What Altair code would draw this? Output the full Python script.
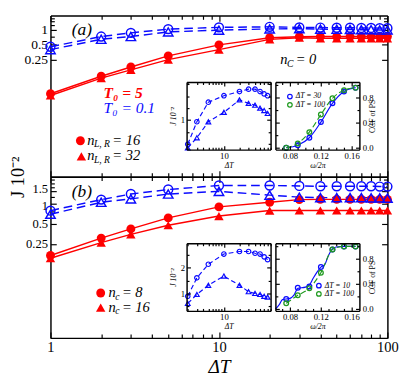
import altair as alt
import pandas as pd

# ---------------- data ----------------
dT = [1, 2, 3, 5, 10, 20, 30, 40, 50, 60, 70, 80, 90, 100]

# panel (a): J*10^2 ; red = T0=5, blue = T0=0.1 ; circles n_LR=16, triangles n_LR=32
a_T5_n16 = [0.050, 0.114, 0.176, 0.297, 0.50, 0.70, 0.735, 0.74, 0.74, 0.74, 0.74, 0.74, 0.74, 0.74]
a_T5_n32 = [0.046, 0.104, 0.154, 0.249, 0.40, 0.648, 0.70, 0.68, 0.68, 0.68, 0.68, 0.68, 0.68, 0.68]
a_T01_n16 = [0.457, 0.74, 0.88, 1.05, 1.14, 1.17, 1.14, 1.13, 1.12, 1.12, 1.11, 1.11, 1.10, 1.10]
a_T01_n32 = [0.40, 0.65, 0.74, 0.92, 1.0, 1.06, 1.07, 1.05, 1.04, 1.03, 1.02, 1.02, 1.01, 1.01]

# panel (b): circles n_c=8, triangles n_c=16
b_T5_nc8 = [0.168, 0.305, 0.418, 0.609, 0.888, 1.04, 1.14, 1.15, 1.15, 1.15, 1.15, 1.15, 1.15, 1.15]
b_T5_nc16 = [0.153, 0.261, 0.347, 0.474, 0.649, 0.783, 0.785, 0.785, 0.785, 0.785, 0.785, 0.785, 0.785, 0.785]
b_T01_nc8 = [0.78, 1.14, 1.38, 1.61, 1.85, 1.85, 1.82, 1.80, 1.80, 1.80, 1.80, 1.80, 1.78, 1.78]
b_T01_nc16 = [0.69, 1.04, 1.17, 1.38, 1.51, 1.33, 1.24, 1.22, 1.22, 1.22, 1.22, 1.21, 1.21, 1.20]

# insets J vs dT
ins_dT = [2, 3, 5, 10, 20, 30, 40, 50, 60, 70]
a_ins_circ = [0.59, 0.97, 1.30, 1.41, 1.48, 1.52, 1.52, 1.48, 1.44, 1.41]
a_ins_tri = [0.53, 0.70, 0.97, 1.13, 1.34, 1.28, 1.25, 1.20, 1.16, 1.11]
b_ins_circ = [0.89, 1.61, 2.14, 2.54, 2.64, 2.64, 2.57, 2.54, 2.43, 2.32]
b_ins_tri = [0.61, 0.96, 1.32, 1.68, 1.32, 1.07, 1.00, 0.96, 0.89, 0.86]

# insets CCF of PS vs omega/2pi
w2pi = [0.075, 0.09, 0.105, 0.12, 0.135, 0.15, 0.165]
a_ccf_30 = [0.0, 0.04, 0.16, 0.41, 0.71, 0.90, 0.96]
a_ccf_100 = [0.0, 0.07, 0.25, 0.53, 0.79, 0.92, 0.96]
b_ccf_10 = [0.16, 0.34, 0.36, 0.67, 0.95, 1.0, 1.0]
b_ccf_100 = [0.09, 0.22, 0.33, 0.58, 0.95, 1.0, 1.0]
b_curve_w = [0.061, 0.066, 0.07, 0.08, 0.085, 0.09, 0.1, 0.105, 0.11, 0.115, 0.12, 0.125, 0.13, 0.135, 0.14, 0.15, 0.165]
b_curve_ccf = [0.0, 0.07, 0.15, 0.17, 0.22, 0.33, 0.35, 0.38, 0.49, 0.59, 0.67, 0.71, 0.86, 0.96, 0.99, 1.0, 1.0]

# axis tick values
x_major = [1, 10, 100]
x_minor = [2, 3, 4, 5, 6, 7, 8, 9, 20, 30, 40, 50, 60, 70, 80, 90]
a_y_major = [0.25, 0.5, 1]
a_y_minor = [0.75, 1.25, 1.5, 1.75]
b_y_major = [0.25, 0.5, 1, 1.5]
b_y_minor = [0.75, 1.25, 1.75, 2, 2.25]
i1_x_major = [10]
i1_x_minor = [2, 3, 4, 5, 6, 7, 8, 9, 20, 30, 40, 50, 60, 70, 80]
a_i1_y_major = [1]
a_i1_y_minor = [0.6, 0.8, 1.2, 1.4, 1.6]
b_i1_y_major = [1, 2]
b_i1_y_minor = [0.5, 1.5, 2.5]
i2_x_major = [0.08, 0.12, 0.16]
i2_x_minor = [0.07, 0.09, 0.1, 0.11, 0.13, 0.14, 0.15]
i2_y_major = [0.0, 0.4, 0.8]
i2_y_minor = [0.2, 0.6, 1.0]

# ---------------- layout ----------------
W, H = 349, 167
RED, BLUE, GREEN = "#ff0000", "#0a0aff", "#1f9a1f"
SERIF = "Liberation Serif"
I1X = [141, 228]
I2X = [233, 320]
IY = [69, 139]  # top, bottom


def sc(kind, domain, rng=None):
    kw = dict(type=kind, domain=domain, nice=False)
    if kind != "log":
        kw["zero"] = False
    if rng is not None:
        kw["range"] = rng
    return alt.Scale(**kw)


def tick_axis(orient, offset, values, size, z, dom=True):
    return alt.Axis(orient=orient, offset=offset, values=values, tickSize=size,
                    labels=False, title=None, domain=dom, domainColor="black",
                    domainWidth=1.5, tickColor="black", tickWidth=1.2,
                    grid=False, zindex=z)


def label_axis(orient, offset, values, fmt, fsize, pad, z, **kw):
    args = dict(orient=orient, offset=offset, values=values, format=fmt,
                ticks=False, domain=False, grid=False, labelFontSize=fsize,
                labelPadding=pad, labelFont=SERIF, labelColor="black",
                labelFlush=False, labelOverlap=False, zindex=z,
                titleFont=SERIF, titleColor="black", titleFontWeight="normal")
    args.update(kw)
    if "title" not in args:
        args["title"] = None
    return alt.Axis(**args)


def frame(xs, ys, xmaj, xmin, ymaj, ymin, px, py, big, small, z, xlabs, ylabs, pt):
    xa = [tick_axis("top", -py[1], xmaj, big, z),
          tick_axis("bottom", py[0] - H, xmaj, big, z)]
    if xmin:
        xa += [tick_axis("top", -py[1], xmin, small, z, False),
               tick_axis("bottom", py[0] - H, xmin, small, z, False)]
    ya = [tick_axis("right", px[0] - W, ymaj, big, z),
          tick_axis("left", -px[1], ymaj, big, z)]
    if ymin:
        ya += [tick_axis("right", px[0] - W, ymin, small, z, False),
               tick_axis("left", -px[1], ymin, small, z, False)]
    xa += xlabs
    ya += ylabs
    df = pd.DataFrame({"x": [pt[0]], "y": [pt[1]]})
    out = []
    for i in range(max(len(xa), len(ya))):
        out.append(alt.Chart(df).mark_point(opacity=0).encode(
            x=alt.X("x:Q", scale=xs, axis=xa[i] if i < len(xa) else None),
            y=alt.Y("y:Q", scale=ys, axis=ya[i] if i < len(ya) else None)))
    return out


def line(x, y, xs, ys, color, dash=None, sw=1.5, interp="linear"):
    kw = dict(color=color, strokeWidth=sw, interpolate=interp)
    if dash:
        kw["strokeDash"] = dash
    return alt.Chart(pd.DataFrame({"x": x, "y": y})).mark_line(**kw).encode(
        x=alt.X("x:Q", scale=xs, axis=None), y=alt.Y("y:Q", scale=ys, axis=None))


def pts(x, y, xs, ys, shape, color, filled, size, sw=1.5):
    return alt.Chart(pd.DataFrame({"x": x, "y": y})).mark_point(
        shape=shape, filled=filled, color=color, size=size, strokeWidth=sw, opacity=1
    ).encode(x=alt.X("x:Q", scale=xs, axis=None), y=alt.Y("y:Q", scale=ys, axis=None))


ONE = pd.DataFrame({"k": [0]})


def txt(s, x, y, size, color="black", style="italic", weight="normal", align="left", angle=0):
    return alt.Chart(ONE).mark_text(text=s, font=SERIF, fontSize=size, color=color,
                                    fontStyle=style, fontWeight=weight, align=align,
                                    baseline="middle", angle=angle).encode(
        x=alt.value(x), y=alt.value(y))


def sym(shape, color, filled, size, x, y, sw=1.5):
    return alt.Chart(ONE).mark_point(shape=shape, filled=filled, color=color, size=size,
                                     strokeWidth=sw, opacity=1).encode(
        x=alt.value(x), y=alt.value(y))


def white_box(xs, ys, xd, yd):
    df = pd.DataFrame({"x": [xd[0]], "x2": [xd[1]], "y": [yd[0]], "y2": [yd[1]]})
    return alt.Chart(df).mark_rect(fill="white").encode(
        x=alt.X("x:Q", scale=xs, axis=None), x2="x2:Q",
        y=alt.Y("y:Q", scale=ys, axis=None), y2="y2:Q")


def panel(ydom, ymaj, ymin, series, i1ydom, i1ymaj, i1ymin, i1c, i1t, ccf_layers, bottom):
    xs = sc("log", [1, 100])
    ys = sc("log", ydom)
    layers = []
    # main frame + labels
    if bottom:
        ylab = [label_axis("left", 0, [v for v in ymaj if v < 1], "~g", 13, 3, 0,
                           title="J 10\u207b\u00b2", titleX=-34, titleY=0, titleAngle=270,
                           titleAlign="center", titleBaseline="middle", titleFontSize=19),
                label_axis("left", 0, [v for v in ymaj if v == 1], "~g", 13, 3, 0, labelOffset=2),
                label_axis("left", 0, [v for v in ymaj if v > 1], "~g", 13, 3, 0, labelOffset=-3)]
        xlab = [label_axis("bottom", 0, x_major, "~g", 15, 2, 0, title="\u0394T",
                           titleFontSize=20, titlePadding=3, titleFontStyle="italic")]
    else:
        ylab = [label_axis("left", 0, ymaj, "~g", 14, 3, 0)]
        xlab = []
    layers += frame(xs, ys, x_major, x_minor, ymaj, ymin, [0, W], [0, H], 6, 4, 0,
                    xlab, ylab, (10, 1))
    # main data
    for (vals, color, shape, filled, dash) in series:
        layers.append(line(dT, vals, xs, ys, color, dash))
    for (vals, color, shape, filled, dash) in series:
        layers.append(pts(dT, vals, xs, ys, shape, color, filled, 85 if shape == "circle" else 95))
    # inset 1
    x1 = sc("log", [1.9, 80], I1X)
    y1 = sc("linear", i1ydom, [IY[1], IY[0]])
    layers.append(white_box(x1, y1, [1.9, 80], i1ydom))
    layers.append(line(ins_dT, i1c, x1, y1, BLUE, [5, 3], 1.2))
    layers.append(line(ins_dT, i1t, x1, y1, BLUE, [5, 3], 1.2))
    layers.append(pts(ins_dT, i1c, x1, y1, "circle", BLUE, False, 22, 1.2))
    layers.append(pts(ins_dT, i1t, x1, y1, "triangle-up", BLUE, False, 24, 1.2))
    layers += frame(x1, y1, i1_x_major, i1_x_minor, i1ymaj, i1ymin, I1X, IY, 4, 2.5, 1,
                    [label_axis("bottom", IY[1] - H, i1_x_major, "~g", 9, 2, 1, title="\u0394T",
                                titleFontSize=8, titlePadding=1, titleFontStyle="italic")],
                    [label_axis("left", -I1X[0], i1ymaj, "~g", 9, 2, 1, title="J 10\u207b\u00b2",
                                titleFontSize=8, titlePadding=3, titleFontStyle="italic")],
                    (10, i1ymaj[0]))
    # inset 2
    x2 = sc("linear", [0.061, 0.17], I2X)
    y2 = sc("linear", [-0.03, 1.05], [IY[1], IY[0]])
    layers.append(white_box(x2, y2, [0.061, 0.17], [-0.03, 1.05]))
    layers += ccf_layers(x2, y2)
    layers += frame(x2, y2, i2_x_major, i2_x_minor, i2_y_major, i2_y_minor, I2X, IY, 4, 2.5, 1,
                    [label_axis("bottom", IY[1] - H, i2_x_major, ".2f", 9, 2, 1, title="\u03c9/2\u03c0",
                                titleFontSize=8, titlePadding=1, titleFontStyle="italic")],
                    [label_axis("right", I2X[1] - W, i2_y_major, ".1f", 9, 3, 1, title="CCF of PS",
                                titleFontSize=8, titlePadding=3, titleAngle=270)],
                    (0.1, 0.4))
    return layers


def ccf_a(x2, y2):
    return [line(w2pi, a_ccf_30, x2, y2, BLUE, None, 1.2, "monotone"),
            line(w2pi, a_ccf_100, x2, y2, GREEN, [6, 3], 1.2, "monotone"),
            pts(w2pi, a_ccf_30, x2, y2, "circle", BLUE, False, 24, 1.3),
            pts(w2pi, a_ccf_100, x2, y2, "circle", GREEN, False, 24, 1.3)]


def ccf_b(x2, y2):
    return [line(b_curve_w, b_curve_ccf, x2, y2, BLUE, None, 1.2, "monotone"),
            line(w2pi, b_ccf_100, x2, y2, GREEN, [6, 3], 1.2, "monotone"),
            pts(w2pi, b_ccf_10, x2, y2, "circle", BLUE, False, 24, 1.3),
            pts(w2pi, b_ccf_100, x2, y2, "circle", GREEN, False, 24, 1.3)]


sa = H / 175.0
sb = H / 176.0

series_a = [(a_T5_n16, RED, "circle", True, None), (a_T5_n32, RED, "triangle-up", True, None),
            (a_T01_n16, BLUE, "circle", False, [9, 5]), (a_T01_n32, BLUE, "triangle-up", False, [9, 5])]
series_b = [(b_T5_nc8, RED, "circle", True, None), (b_T5_nc16, RED, "triangle-up", True, None),
            (b_T01_nc8, BLUE, "circle", False, [9, 5]), (b_T01_nc16, BLUE, "triangle-up", False, [9, 5])]

layers_a = panel([0.001, 2.0], a_y_major, a_y_minor, series_a, [0.5, 1.64], a_i1_y_major,
                 a_i1_y_minor, a_ins_circ, a_ins_tri, ccf_a, False)
layers_a += [
    txt("(a)", 22, 15.5 * sa, 18),
    txt("T\u2080 = 5", 55, 84 * sa, 16, RED, "italic", "bold"),
    txt("T\u2080 = 0.1", 55, 101 * sa, 16, BLUE),
    sym("circle", RED, True, 85, 31, 136 * sa),
    txt("n", 38, 135 * sa, 15), txt("L, R", 45, 140 * sa, 10), txt("= 16", 64, 135 * sa, 15),
    sym("triangle-up", RED, True, 95, 32, 153 * sa),
    txt("n", 38, 152 * sa, 15), txt("L, R", 45, 157 * sa, 10), txt("= 32", 64, 152 * sa, 15),
    txt("n", 238, 48 * sa, 15), txt("C", 245, 53 * sa, 10), txt("= 0", 254, 48 * sa, 15),
    sym("circle", BLUE, False, 22, 248, 88 * sa, 1.3), txt("\u0394T = 30", 254, 88 * sa, 8),
    sym("circle", GREEN, False, 22, 248, 97 * sa, 1.3), txt("\u0394T = 100", 254, 97 * sa, 8),
]

layers_b = panel([0.01, 2.5], b_y_major, b_y_minor, series_b, [0.32, 2.96], b_i1_y_major,
                 b_i1_y_minor, b_ins_circ, b_ins_tri, ccf_b, True)
layers_b += [
    txt("(b)", 22, (192 - 175) * sb, 18),
    sym("circle", RED, True, 85, 52, (302 - 175) * sb),
    txt("n", 60, (301 - 175) * sb, 15), txt("c", 67, (306 - 175) * sb, 10), txt("= 8", 74, (301 - 175) * sb, 15),
    sym("triangle-up", RED, True, 95, 52, (318 - 175) * sb),
    txt("n", 60, (317 - 175) * sb, 15), txt("c", 67, (322 - 175) * sb, 10), txt("= 16", 74, (317 - 175) * sb, 15),
    sym("circle", BLUE, False, 22, 278, (294 - 175) * sb, 1.3), txt("\u0394T = 10", 284, (294 - 175) * sb, 8),
    sym("circle", GREEN, False, 22, 278, (303 - 175) * sb, 1.3), txt("\u0394T = 100", 284, (303 - 175) * sb, 8),
]

pa = alt.layer(*layers_a).resolve_scale(x="independent", y="independent").resolve_axis(
    x="independent", y="independent").properties(width=W, height=H)
pb = alt.layer(*layers_b).resolve_scale(x="independent", y="independent").resolve_axis(
    x="independent", y="independent").properties(width=W, height=H)

chart = alt.vconcat(pa, pb, spacing=0, bounds="flush").properties(
    padding=0, background="white").configure_view(stroke=None)

chart.save("out.html", embed_options={"renderer": "svg", "actions": False})
